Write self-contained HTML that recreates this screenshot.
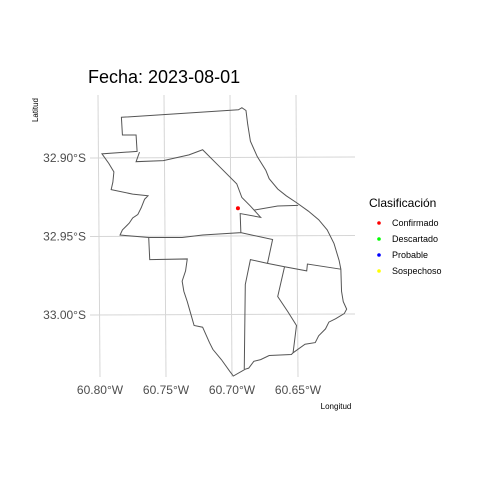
<!DOCTYPE html>
<html><head><meta charset="utf-8"><style>
body{margin:0;background:#fff}
svg text{font-family:"Liberation Sans",sans-serif}
</style></head><body>
<svg width="480" height="480" viewBox="0 0 480 480">
<rect width="480" height="480" fill="#fff"/>
<g id="grid" stroke="#d6d6d6" stroke-width="1" fill="none"></g>
<g transform="translate(90,90) scale(0.3413)" fill="none" stroke="#555" stroke-width="1">
<path vector-effect="non-scaling-stroke" d="M92,80 L435,58 445,52 457,60 462,100 470,150 490,195 515,235 525,260 550,290 575,310 605,330 640,355 670,380 695,410 715,450 730,500 735,525 737,590 742,620 752,642 745,655 720,670 700,680 690,700 670,720 660,740 630,745 595,770 590,775 525,778 500,790 480,795 465,815 455,818 420,838 410,825 385,790 360,760 350,740 330,695 305,690 295,655 285,620 275,590 270,560 280,530 285,495 175,497 172,432 88,425 95,410 115,390 125,375 140,365 150,345 160,320 170,310 125,305 62,292 67,270 70,240 55,215 35,187 138,180 135,132 95,132 Z"/>
<path vector-effect="non-scaling-stroke" d="M145,182 L135,210 215,207 290,190 330,175 380,225 430,275 445,315 470,340 500,373 440,362 442,418 330,425 270,432 172,432 M480,352 L550,340 610,338 M442,418 L535,438 520,508 470,497 455,570 452,818 M520,508 L570,518 635,530 637,510 735,525 M570,518 L550,605 580,650 605,690 595,770"/>
</g>
<g id="points"></g>
<text x="88" y="83" font-size="18" fill="#000">Fecha: 2023-08-01</text>
<text transform="translate(38,110) rotate(-90)" font-size="8" text-anchor="middle" fill="#000">Latitud</text>
<text x="336" y="409" font-size="8" text-anchor="middle" fill="#000">Longitud</text>
<g id="ticks" font-size="12" fill="#4d4d4d"></g>
<g>
<text x="369" y="207" font-size="12" fill="#000">Clasificación</text>
<g id="legend"></g>
</g>
</svg>
<script>
const lonTicks=[-60.80,-60.75,-60.70,-60.65];
const lonLabels=["60.80°W","60.75°W","60.70°W","60.65°W"];
const latTicks=[-32.90,-32.95,-33.00];
const latLabels=["32.90°S","32.95°S","33.00°S"];
const pointLon=[-60.6955];
const pointLat=[-32.932];
const pointClass=["Confirmado"];
const classes=["Confirmado","Descartado","Probable","Sospechoso"];
const classColors=["#ff0000","#00ff00","#0000ff","#ffff00"];
function xs(lon){return 100+(lon+60.80)/0.05*66;}
function ys(lat){return 158+(-32.90-lat)/0.05*78.5;}
const NS="http://www.w3.org/2000/svg";
const grid=document.getElementById('grid'),ticks=document.getElementById('ticks');
lonTicks.forEach((v,i)=>{
 const l=document.createElementNS(NS,'line');
 l.setAttribute('x1',xs(v)-2);l.setAttribute('x2',xs(v));l.setAttribute('y1',95);l.setAttribute('y2',377);
 
 
 grid.appendChild(l);
 const t=document.createElementNS(NS,'text');
 t.setAttribute('x',xs(v));t.setAttribute('y',394);t.setAttribute('text-anchor','middle');
 t.textContent=lonLabels[i];
 
 
 ticks.appendChild(t);
});
latTicks.forEach((v,i)=>{
 const l=document.createElementNS(NS,'line');
 l.setAttribute('x1',90);l.setAttribute('x2',355);l.setAttribute('y1',ys(v));l.setAttribute('y2',ys(v)-1);
 
 
 grid.appendChild(l);
 const t=document.createElementNS(NS,'text');
 t.setAttribute('x',86);t.setAttribute('y',ys(v)+4);t.setAttribute('text-anchor','end');
 t.textContent=latLabels[i];
 
 
 ticks.appendChild(t);
});
const pts=document.getElementById('points');
pointLon.forEach((v,i)=>{
 const c=document.createElementNS(NS,'circle');
 c.setAttribute('cx',xs(v));c.setAttribute('cy',ys(pointLat[i]));c.setAttribute('r',2);
 c.setAttribute('fill',classColors[classes.indexOf(pointClass[i])]);
 
 
 pts.appendChild(c);
});
const lg=document.getElementById('legend');
classes.forEach((c,i)=>{
 const y=223+i*16;
 const d=document.createElementNS(NS,'circle');
 d.setAttribute('cx',379);d.setAttribute('cy',y);d.setAttribute('r',1.8);d.setAttribute('fill',classColors[i]);
 
 
 lg.appendChild(d);
 const t=document.createElementNS(NS,'text');
 t.setAttribute('x',392);t.setAttribute('y',y+3);t.setAttribute('font-size','9');t.setAttribute('fill','#000');
 t.textContent=c;
 
 
 lg.appendChild(t);
});
</script>
</body></html>
